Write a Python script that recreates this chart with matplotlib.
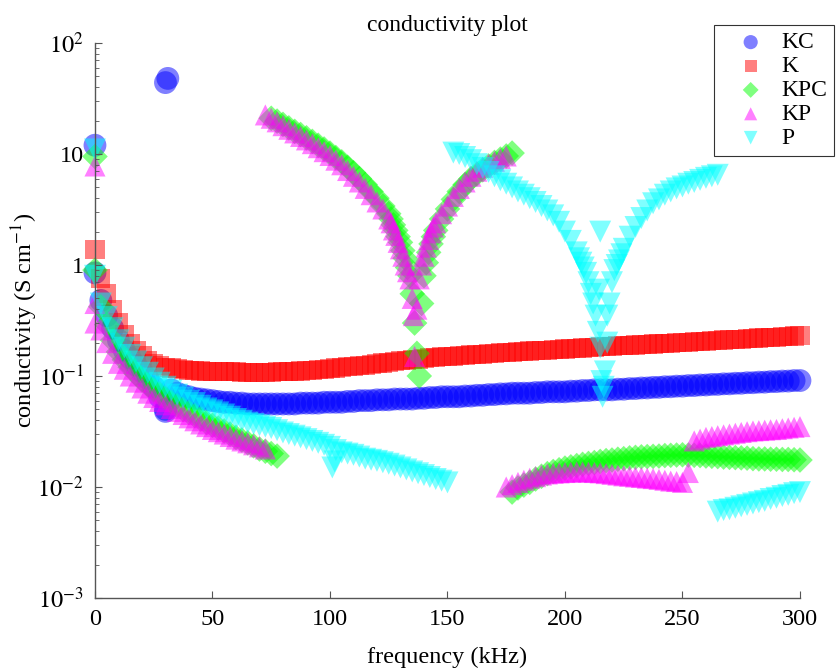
import numpy as np
import matplotlib
matplotlib.use("Agg")
import matplotlib.pyplot as plt

plt.rcParams["font.family"] = ["Liberation Serif", "DejaVu Serif"]
plt.rcParams["mathtext.fontset"] = "stix"

# ---- KC (blue circles) ----
kc_freq = np.concatenate([[0, 30, 31, 30],
                          np.arange(0, 30.1, 2.5),
                          np.arange(32.5, 300.1, 2.5)])
kc_sigma = [12, 44, 48, 0.048,
            0.85, 0.48, 0.35, 0.27, 0.21, 0.17, 0.145, 0.125, 0.11, 0.095, 0.08, 0.065, 0.05,
            0.075, 0.070, 0.067, 0.065, 0.063, 0.062, 0.061, 0.060, 0.059, 0.058,
            0.058, 0.057, 0.057, 0.056, 0.056, 0.056, 0.056, 0.056, 0.056, 0.056,
            0.056, 0.056, 0.057, 0.057, 0.057, 0.057, 0.058, 0.058, 0.058, 0.058,
            0.059, 0.059, 0.060, 0.060, 0.060, 0.061, 0.061, 0.061, 0.062, 0.062,
            0.062, 0.062, 0.063, 0.063, 0.064, 0.064, 0.065, 0.065, 0.065, 0.065,
            0.066, 0.066, 0.067, 0.067, 0.068, 0.068, 0.069, 0.069, 0.070, 0.070,
            0.070, 0.070, 0.071, 0.071, 0.072, 0.072, 0.072, 0.072, 0.073, 0.073,
            0.074, 0.074, 0.075, 0.075, 0.075, 0.075, 0.076, 0.076, 0.077, 0.077,
            0.078, 0.078, 0.079, 0.079, 0.080, 0.080, 0.081, 0.081, 0.082, 0.082,
            0.083, 0.083, 0.084, 0.084, 0.085, 0.085, 0.086, 0.086, 0.087, 0.087,
            0.088, 0.088, 0.089, 0.089, 0.090, 0.090, 0.091, 0.091]

# ---- K (red squares) ----
k_freq = np.arange(0, 300.1, 2.5)
k_sigma = [1.37, 0.75, 0.55, 0.40, 0.30, 0.235, 0.195, 0.17, 0.152, 0.138,
           0.129, 0.124, 0.120, 0.118, 0.116, 0.114, 0.113, 0.112, 0.111, 0.110,
           0.110, 0.109, 0.109, 0.109, 0.109, 0.108, 0.108, 0.108, 0.108, 0.108,
           0.108, 0.109, 0.109, 0.110, 0.110, 0.111, 0.112, 0.113, 0.114, 0.115,
           0.116, 0.118, 0.119, 0.121, 0.122, 0.124, 0.125, 0.127, 0.129, 0.131,
           0.133, 0.135, 0.137, 0.139, 0.140, 0.142, 0.144, 0.146, 0.147, 0.149,
           0.150, 0.151, 0.152, 0.154, 0.155, 0.156, 0.157, 0.159, 0.160, 0.162,
           0.163, 0.164, 0.165, 0.167, 0.168, 0.169, 0.170, 0.171, 0.172, 0.174,
           0.175, 0.177, 0.178, 0.179, 0.180, 0.182, 0.183, 0.184, 0.185, 0.187,
           0.188, 0.189, 0.190, 0.192, 0.193, 0.194, 0.195, 0.197, 0.198, 0.199,
           0.200, 0.202, 0.203, 0.205, 0.206, 0.208, 0.209, 0.211, 0.212, 0.214,
           0.215, 0.217, 0.218, 0.220, 0.221, 0.223, 0.224, 0.226, 0.227, 0.229,
           0.230]

# ---- KPC (green diamonds) ----
kpc_freq = np.concatenate([[0],
                           np.arange(0, 77.6, 2.5),
                           np.arange(75, 125.1, 2.5),
                           np.arange(126, 145.1, 1),
                           np.arange(147.5, 177.6, 2.5),
                           np.arange(177.5, 300.1, 2.5)])
kpc_sigma = [9.5,
             0.9, 0.42, 0.29, 0.21, 0.165, 0.14, 0.12, 0.105, 0.092, 0.083,
             0.075, 0.069, 0.063, 0.058, 0.054, 0.050, 0.047, 0.044, 0.041, 0.038,
             0.036, 0.034, 0.032, 0.030, 0.028, 0.0265, 0.025, 0.0235, 0.022, 0.021,
             0.020, 0.019,
             21, 19.8, 18.5, 17.2, 16, 15, 14, 13, 12, 11.1,
             10.2, 9.3, 8.5, 7.6, 6.8, 6.0, 5.3, 4.6, 4.0, 3.4, 2.9,
             2.6, 2.3, 2.05, 1.8, 1.6, 1.35, 1.15, 0.95, 0.8, 0.55,
             0.3, 0.16, 0.1, 0.45, 0.8, 1.05, 1.3, 1.55, 1.8, 2.05,
             2.6, 3.2, 3.9, 4.6, 5.3, 6.0, 6.6, 7.2, 7.8, 8.4, 9.0, 9.6, 10.2,
             0.009, 0.0098, 0.0104, 0.011, 0.0118, 0.0125, 0.0132, 0.0138, 0.0143, 0.0148,
             0.0152, 0.0156, 0.016, 0.0163, 0.0166, 0.017, 0.0173, 0.0175, 0.0178, 0.018,
             0.0183, 0.0185, 0.0187, 0.0188, 0.0189, 0.019, 0.0192, 0.0193, 0.0194, 0.0195,
             0.0194, 0.0193, 0.0192, 0.019, 0.0189, 0.0188, 0.0186, 0.0185, 0.0184, 0.0183,
             0.0182, 0.018, 0.0179, 0.0179, 0.0178, 0.0178, 0.0177, 0.0177, 0.0176, 0.0175]

# ---- KP (magenta triangles) ----
kp_freq = np.concatenate([[0, 0],
                          np.arange(0, 72.6, 2.5),
                          np.arange(72.5, 125.1, 2.5),
                          [126, 127, 128, 129, 130, 131, 132, 133, 134, 135, 135.5,
                           136, 137, 138, 139, 140, 141, 142, 143, 144, 145],
                          np.arange(147.5, 175.1, 2.5),
                          np.arange(175, 250.1, 2.5),
                          [252.5],
                          np.arange(255, 300.1, 2.5)])
kp_sigma = [7.8, 0.3,
            0.45, 0.26, 0.2, 0.16, 0.13, 0.115, 0.10, 0.088, 0.078, 0.07,
            0.064, 0.059, 0.055, 0.051, 0.048, 0.045, 0.042, 0.0395, 0.037, 0.035,
            0.033, 0.0315, 0.030, 0.0285, 0.027, 0.026, 0.025, 0.024, 0.023, 0.022,
            22.5, 21, 19.5, 18, 16.7, 15.5, 14.4, 13.4, 12.4, 11.4, 10.5,
            9.7, 8.8, 8.0, 7.1, 6.3, 5.6, 4.9, 4.3, 3.7, 3.2, 2.6,
            2.4, 2.07, 1.85, 1.6, 1.4, 1.2, 1.0, 0.87, 0.75, 0.5, 0.35,
            0.15, 0.4, 0.75, 1.0, 1.2, 1.45, 1.7, 1.95, 2.2, 2.4,
            2.9, 3.4, 4.15, 4.9, 5.6, 6.3, 7.0, 7.6, 8.1, 8.6, 9.1, 9.6,
            0.0100, 0.0105, 0.011, 0.0115, 0.012, 0.0124, 0.0128, 0.0131, 0.0133, 0.0134,
            0.0135, 0.0136, 0.0137, 0.0137, 0.0136, 0.0135, 0.0134, 0.0132, 0.013, 0.0128,
            0.0126, 0.0125, 0.0123, 0.0122, 0.012, 0.0119, 0.0117, 0.0115, 0.0113, 0.0112,
            0.011,
            0.0135,
            0.026, 0.027, 0.028, 0.0285, 0.029, 0.0295, 0.030, 0.0305, 0.031, 0.0315,
            0.032, 0.0322, 0.0325, 0.0328, 0.033, 0.0335, 0.034, 0.0345, 0.035]

# ---- P (cyan downward triangles) ----
p_freq = np.concatenate([[0, 101, 102],
                         np.arange(0, 150.1, 2.5),
                         np.arange(152.5, 205.1, 2.5),
                         [206, 207, 208, 209, 210, 211, 212, 213, 214, 215, 215.5,
                          216, 216.5, 217, 218, 219, 220, 221, 222, 223, 224, 225],
                         [215, 214.5, 218],
                         np.arange(227.5, 265.1, 2.5),
                         np.arange(265, 300.1, 2.5)])
p_sigma = [11, 0.015, 0.017,
           0.8, 0.45, 0.34, 0.27, 0.21, 0.18, 0.155, 0.135, 0.12, 0.107,
           0.095, 0.087, 0.08, 0.074, 0.068, 0.064, 0.060, 0.057, 0.054, 0.051,
           0.049, 0.047, 0.045, 0.043, 0.041, 0.0395, 0.038, 0.037, 0.036, 0.035,
           0.034, 0.0325, 0.031, 0.030, 0.029, 0.028, 0.027, 0.026, 0.025, 0.024,
           0.023, 0.0215, 0.0205, 0.020, 0.0195, 0.0188, 0.018, 0.0176, 0.0172, 0.0167,
           0.0162, 0.0156, 0.015, 0.0144, 0.0138, 0.0133, 0.0128, 0.0123, 0.0118, 0.0114,
           0.011,
           10.3, 10.0, 9.4, 8.8, 8.1, 7.5, 6.9, 6.3, 5.8, 5.4, 5.0,
           4.6, 4.3, 4.0, 3.7, 3.4, 3.1, 2.8, 2.45, 2.0, 1.65, 1.3,
           1.15, 1.05, 0.95, 0.85, 0.7, 0.55, 0.45, 0.35, 0.25, 0.18, 0.09,
           0.065, 0.08, 0.11, 0.2, 0.45, 0.7, 0.9, 1.0, 1.1, 1.25, 1.4,
           2.0, 0.6, 0.35,
           1.8, 2.2, 2.65, 3.1, 3.6, 3.9, 4.3, 4.6, 4.9, 5.1, 5.4, 5.6, 5.85, 6.1, 6.3, 6.5,
           0.006, 0.0062, 0.0063, 0.0065, 0.0067, 0.0069, 0.0071, 0.0073, 0.0075, 0.0078,
           0.008, 0.0083, 0.0085, 0.0088, 0.009]

series = [
    ("KC", kc_freq, kc_sigma, "o", (0, 0, 1), 270),
    ("K", k_freq, k_sigma, "s", (1, 0, 0), 190),
    ("KPC", kpc_freq, kpc_sigma, "D", (0, 1, 0), 170),
    ("KP", kp_freq, kp_sigma, "^", (1, 0, 1), 230),
    ("P", p_freq, p_sigma, "v", (0, 1, 1), 250),
]

fig = plt.figure(figsize=(8.36, 6.68), dpi=100)
ax = fig.add_axes([0.1136, 0.1048, 0.8433, 0.8308])

# 半透明的散點, 疊在一起就變成實心的帶狀
for name, f, s, mk, col, size in series:
    ax.scatter(f, s, s=size, marker=mk, color=col, alpha=0.5,
               edgecolors="none", label=name, clip_on=False)

ax.set_yscale("log")
ax.set_ylim(1e-3, 1e2)
ax.set_xlim(0, 300)
ax.set_xticks(np.arange(0, 301, 50))
ax.set_yticks([1e-3, 1e-2, 1e-1, 1, 10, 100])
ax.set_yticklabels([r"$10^{-3}$", r"$10^{-2}$", r"$10^{-1}$", "1", "10", r"$10^{2}$"])

for side in ["top", "right"]:
    ax.spines[side].set_visible(False)
for side in ["left", "bottom"]:
    ax.spines[side].set_color("#555555")
    ax.spines[side].set_linewidth(1.0)

ax.tick_params(which="major", direction="in", length=5, color="#555555",
               labelsize=17.5, pad=8)
ax.tick_params(which="minor", direction="in", length=3, color="#555555")
ax.tick_params(axis="x", which="minor", bottom=False)

ax.set_title("conductivity plot", fontsize=17, pad=9)
ax.set_xlabel("frequency (kHz)", fontsize=17.5, labelpad=12)
ax.set_ylabel(r"conductivity (S cm$^{-1}$)", fontsize=17.5, labelpad=-2)

leg = ax.legend(loc="upper right", bbox_to_anchor=(0.998, 0.963),
                bbox_transform=fig.transFigure, borderaxespad=0,
                fontsize=17, frameon=True, fancybox=False, markerscale=0.62,
                labelspacing=0.1, handletextpad=0.05, borderpad=0.3,
                handlelength=2.5)
leg.get_frame().set_edgecolor("black")
leg.get_frame().set_linewidth(0.8)

fig.savefig("out.png", dpi=100)
